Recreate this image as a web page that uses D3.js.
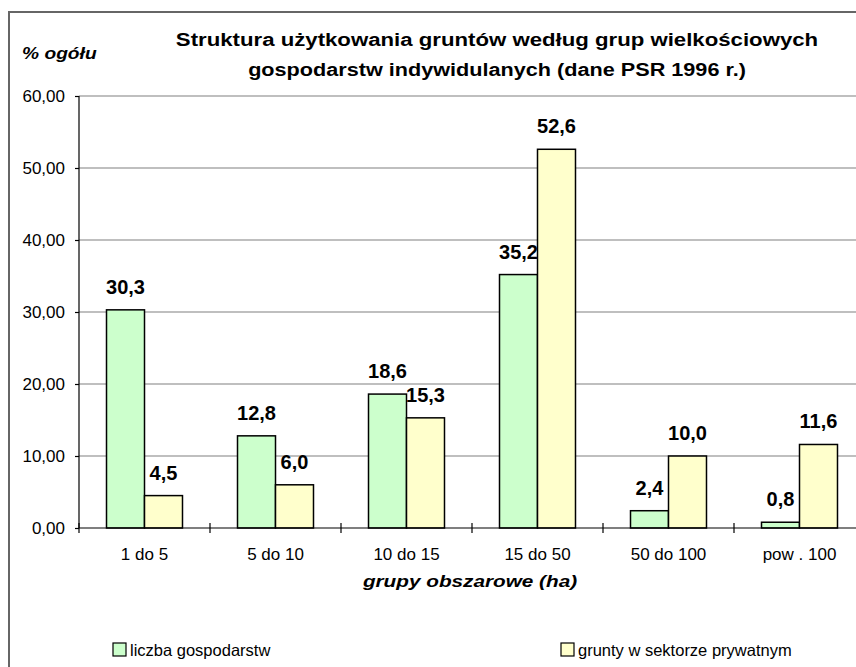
<!DOCTYPE html>
<meta charset="utf-8">
<script src="https://cdn.jsdelivr.net/npm/d3@7"></script>
<style>
body { margin: 0; background: #fff; }
text { font-family: Arial, "Liberation Sans", sans-serif; fill: #000; }
.grid line { stroke: #808080; stroke-width: 1.2px; }
.axis path, .axis line { stroke: #000; stroke-width: 1.2px; }
</style>
<body>
<script>

// data
var categories = ["1 do 5", "5 do 10", "10 do 15", "15 do 50", "50 do 100", "pow . 100"];
var series = ["liczba gospodarstw", "grunty w sektorze prywatnym"];
var liczba = [30.3, 12.8, 18.6, 35.2, 2.4, 0.8];
var grunty = [4.5, 6.0, 15.3, 52.6, 10.0, 11.6];
var yTicks = [0, 10, 20, 30, 40, 50, 60];
var colors = ["#CCFFCC", "#FFFFCC"];

var width = 856, height = 667;
var plotLeft = 79, plotRight = 865, plotTop = 96, plotBottom = 528;

var svg = d3.select("body").append("svg")
    .attr("width", width)
    .attr("height", height);

// outer frame (goes past right / bottom edge)
svg.append("rect")
    .attr("x", 9).attr("y", 12)
    .attr("width", 900).attr("height", 700)
    .attr("fill", "none")
    .attr("stroke", "#666")
    .attr("stroke-width", 2);

var x = d3.scaleBand().domain(categories).range([plotLeft, plotRight]);
var xs = d3.scaleBand().domain(series).range([0, x.bandwidth()]).paddingOuter(0.724);
var y = d3.scaleLinear().domain([0, 60]).range([plotBottom, plotTop]);

// gridlines
svg.append("g").attr("class", "grid")
  .selectAll("line")
  .data(yTicks.slice(1))
  .enter().append("line")
    .attr("x1", plotLeft).attr("x2", width)
    .attr("y1", function(d) { return y(d); })
    .attr("y2", function(d) { return y(d); });

var rows = categories.map(function(c, i) {
  return {cat: c, vals: [liczba[i], grunty[i]]};
});

var group = svg.selectAll(".grp")
  .data(rows)
  .enter().append("g")
    .attr("class", "grp")
    .attr("transform", function(d) { return "translate(" + x(d.cat) + ",0)"; });

group.selectAll("rect")
  .data(function(d) { return d.vals.map(function(v, j) { return {s: series[j], v: v, j: j}; }); })
  .enter().append("rect")
    .attr("x", function(d) { return xs(d.s); })
    .attr("y", function(d) { return y(d.v); })
    .attr("width", xs.bandwidth())
    .attr("height", function(d) { return plotBottom - y(d.v); })
    .attr("fill", function(d) { return colors[d.j]; })
    .attr("stroke", "#000")
    .attr("stroke-width", 1.5);

group.selectAll(".lbl")
  .data(function(d) { return d.vals.map(function(v, j) { return {s: series[j], v: v}; }); })
  .enter().append("text")
    .attr("class", "lbl")
    .attr("x", function(d) { return xs(d.s) + xs.bandwidth() / 2; })
    .attr("y", function(d) { return y(d.v) - 16; })
    .attr("text-anchor", "middle")
    .style("font-size", "20px")
    .style("font-weight", "bold")
    .text(function(d) { return d.v.toFixed(1).replace(".", ","); });

// y axis
svg.append("g").attr("class", "axis")
    .attr("transform", "translate(" + plotLeft + ",0)")
    .call(d3.axisLeft(y).tickValues(yTicks).tickSize(4).tickPadding(10)
      .tickFormat(function(d) { return d.toFixed(2).replace(".", ","); }))
    .call(function(g) {
      g.select(".domain").attr("d", "M0," + plotTop + "V" + plotBottom);
      g.selectAll("text").style("font-size", "17px").attr("fill", "#000");
    });

// x axis
var xAxis = svg.append("g").attr("class", "axis")
    .attr("transform", "translate(0," + plotBottom + ")");
xAxis.append("line").attr("x1", plotLeft).attr("x2", width).attr("y1", 0).attr("y2", 0);
xAxis.selectAll(".tk")
  .data(categories)
  .enter().append("line")
    .attr("class", "tk")
    .attr("x1", function(d) { return x(d); })
    .attr("x2", function(d) { return x(d); })
    .attr("y1", -5).attr("y2", 5);
xAxis.selectAll(".cl")
  .data(categories)
  .enter().append("text")
    .attr("class", "cl")
    .attr("x", function(d) { return x(d) + x.bandwidth() / 2; })
    .attr("y", 32)
    .attr("text-anchor", "middle")
    .style("font-size", "17px")
    .text(function(d) { return d; });

// stretched bold labels, like the original
function label(txt, px, py, size, sx, anchor, italic) {
  svg.append("text")
      .attr("transform", "translate(" + px + "," + py + ") scale(" + sx + ",1)")
      .attr("text-anchor", anchor)
      .style("font-size", size + "px")
      .style("font-weight", "bold")
      .style("font-style", italic ? "italic" : "normal")
      .text(txt);
}

label("Struktura użytkowania gruntów według grup wielkościowych", 497, 46, 18.5, 1.2, "middle", false);
label("gospodarstw indywidulanych (dane PSR 1996 r.)", 497, 76, 18.5, 1.17, "middle", false);
label("% ogółu", 22, 59, 17, 1.13, "start", true);
label("grupy obszarowe (ha)", 470, 587, 17, 1.22, "middle", true);

// legend
var legendX = [113, 561];
var legend = svg.selectAll(".leg")
  .data(series)
  .enter().append("g")
    .attr("class", "leg")
    .attr("transform", function(d, i) { return "translate(" + legendX[i] + ",643)"; });
legend.append("rect")
    .attr("width", 13).attr("height", 13)
    .attr("fill", function(d, i) { return colors[i]; })
    .attr("stroke", "#000")
    .attr("stroke-width", 1.2);
legend.append("text")
    .attr("x", 17).attr("y", 13)
    .style("font-size", "16.5px")
    .text(function(d) { return d; });

</script>
</body>
</html>
